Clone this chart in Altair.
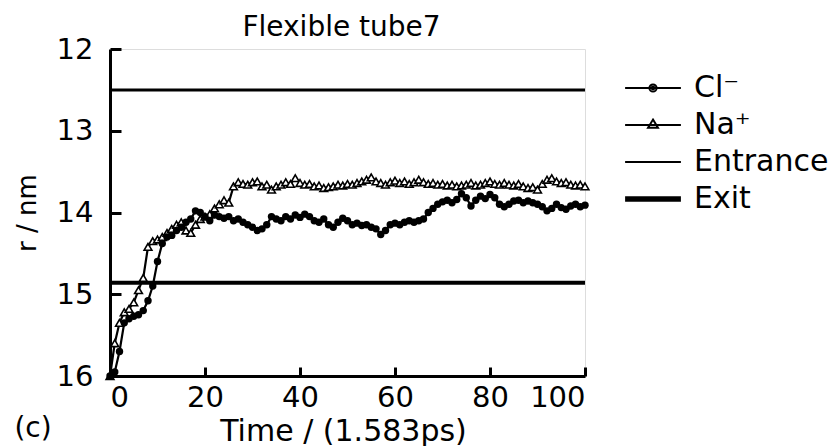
import altair as alt
import pandas as pd

TIME = list(range(0, 101))
CL = [16.0, 15.95, 15.7, 15.35, 15.3, 15.27, 15.25, 15.2, 15.08, 14.9,
      14.6, 14.38, 14.3, 14.28, 14.22, 14.18, 14.12, 14.08, 13.98, 14.0,
      14.05, 14.1, 14.03, 14.05, 14.07, 14.05, 14.1, 14.08, 14.12, 14.15,
      14.18, 14.22, 14.2, 14.15, 14.05, 14.08, 14.1, 14.05, 14.08, 14.03,
      14.06, 14.02, 14.05, 14.1, 14.12, 14.08, 14.15, 14.18, 14.12, 14.07,
      14.1, 14.15, 14.13, 14.16, 14.15, 14.18, 14.2, 14.27, 14.22, 14.15,
      14.13, 14.15, 14.12, 14.1, 14.12, 14.1, 14.08, 14.0, 13.95, 13.9,
      13.87, 13.85, 13.88, 13.84, 13.77, 13.82, 13.92, 13.85, 13.8, 13.83,
      13.78, 13.82, 13.9, 13.93, 13.9, 13.86, 13.85, 13.88, 13.86, 13.88,
      13.9, 13.93, 13.98, 13.95, 13.9, 13.94, 13.96, 13.92, 13.9, 13.93,
      13.91]
NA = [16.0, 15.6, 15.35, 15.22, 15.18, 15.1, 14.95, 14.8, 14.42, 14.35,
      14.33, 14.3, 14.25, 14.2, 14.15, 14.12, 14.22, 14.25, 14.15, 14.08,
      14.05, 14.02, 13.95, 13.9, 13.85, 13.88, 13.68, 13.63, 13.65, 13.66,
      13.63, 13.62, 13.68, 13.66, 13.72, 13.68, 13.66, 13.63, 13.65, 13.58,
      13.64, 13.66, 13.65, 13.68, 13.67, 13.7, 13.69, 13.68, 13.66, 13.67,
      13.65, 13.66, 13.64, 13.62, 13.6, 13.57, 13.62, 13.64, 13.66, 13.63,
      13.61, 13.64, 13.62, 13.65, 13.63, 13.6, 13.63, 13.65, 13.64, 13.66,
      13.65, 13.67, 13.66, 13.68, 13.67, 13.66, 13.64, 13.67, 13.66, 13.64,
      13.62, 13.65, 13.66, 13.64, 13.66, 13.67, 13.65, 13.68, 13.7, 13.69,
      13.72, 13.65, 13.6, 13.58, 13.62, 13.64, 13.63, 13.66, 13.67, 13.66,
      13.68]
LEVEL_NAMES = ["Entrance", "Exit"]
LEVEL_VALUES = [12.5, 14.86]
LEVEL_WIDTHS = [3, 4]
SERIES = ["Cl\u207b", "Na\u207a", "Entrance", "Exit"]
X_TICKS = [0, 20, 40, 60, 80, 100]
Y_TICKS = [12, 13, 14, 15, 16]
TITLE = "Flexible tube7"
X_TITLE = "Time / (1.583ps)"
Y_TITLE = "r / nm"
PANEL = "(c)"

FONT = "DejaVu Sans"
W, H = 475, 327

df = pd.DataFrame({
    "t": TIME + TIME,
    "r": CL + NA,
    "series": [SERIES[0]] * len(TIME) + [SERIES[1]] * len(TIME),
})
lv = pd.DataFrame({"r": LEVEL_VALUES, "series": LEVEL_NAMES, "w": LEVEL_WIDTHS})

xs = alt.Scale(domain=[0, 100], nice=False, zero=False)
ys = alt.Scale(domain=[12, 16], reverse=True, nice=False, zero=False)

# legend symbol paths (unit = sqrt(size)/2 px), stroked black
P_CL = ("M-3.1,0H3.1"
        "M-0.4,0A0.4,0.4 0 1,0 0.4,0A0.4,0.4 0 1,0 -0.4,0Z"
        "M-0.15,0A0.15,0.15 0 1,0 0.15,0A0.15,0.15 0 1,0 -0.15,0Z")
P_NA = "M-3.1,0H3.1M0,-0.6L0.55,0.3L-0.55,0.3Z"
P_ENT = "M-3.1,0H3.1"
P_EXIT = "M-3.1,-0.2H3.1M-3.1,0H3.1M-3.1,0.2H3.1"

rules = alt.Chart(lv).mark_rule(color="black").encode(
    y=alt.Y("r:Q", scale=ys, axis=alt.Axis(
        values=Y_TICKS, format="d", ticks=False, grid=False,
        domainColor="black", domainWidth=3,
        labelFontSize=29, labelColor="black", labelPadding=17, labelFont=FONT,
        title=Y_TITLE, titleFontSize=26, titleFontWeight="normal",
        titleColor="black", titleFont=FONT, titlePadding=16)),
    strokeWidth=alt.StrokeWidth("w:Q", scale=None, legend=None),
)

base = alt.Chart(df)

lines = base.mark_line(color="black", strokeWidth=2.2).encode(
    x=alt.X("t:Q", scale=xs, axis=alt.Axis(
        values=X_TICKS, ticks=False, grid=False,
        domainColor="black", domainWidth=3,
        labelFontSize=29, labelColor="black", labelPadding=7, labelFont=FONT,
        title=X_TITLE, titleFontSize=30, titleFontWeight="normal",
        titleColor="black", titleFont=FONT, titlePadding=4, titleX=233)),
    y=alt.Y("r:Q", scale=ys, axis=alt.Axis(
        orient="right", offset=-W, values=Y_TICKS, labels=False,
        domain=False, grid=False, ticks=True, tickSize=11, tickWidth=3,
        tickColor="black", title=None)),
    detail="series:N",
)

cl_pts = base.transform_filter(alt.datum.series == SERIES[0]).mark_point(
    shape="circle", filled=True, color="black", size=55, opacity=1
).encode(
    x=alt.X("t:Q", scale=xs, axis=alt.Axis(
        orient="top", offset=-H, values=X_TICKS, labels=False, domain=False,
        grid=False, ticks=True, tickSize=9, tickWidth=3, tickColor="black",
        title=None)),
    y=alt.Y("r:Q", scale=ys, axis=None),
)

na_pts = base.transform_filter(alt.datum.series == SERIES[1]).mark_point(
    shape="triangle-up", filled=True, fill="white", stroke="black",
    strokeWidth=1.6, size=60, opacity=1
).encode(
    x=alt.X("t:Q", scale=xs, axis=None),
    y=alt.Y("r:Q", scale=ys, axis=None),
)

legend_layer = base.transform_filter("datum.t < 0").mark_point(
    filled=False, color="black", strokeWidth=2, opacity=1
).encode(
    shape=alt.Shape("series:N", scale=alt.Scale(domain=SERIES, range=[P_CL, P_NA, P_ENT, P_EXIT]),
                    legend=alt.Legend(
                        title=None, orient="none", legendX=528, legendY=24,
                        symbolSize=324, symbolStrokeColor="black",
                        symbolStrokeWidth=2, labelFont=FONT, labelFontSize=30,
                        labelColor="black", labelOffset=26, rowPadding=7)),
)

panel = alt.Chart(pd.DataFrame({"label": [PANEL]})).mark_text(
    font=FONT, fontSize=28, color="black", align="center", baseline="middle"
).encode(text="label:N", x=alt.value(-77), y=alt.value(380))

chart = alt.layer(rules, lines, na_pts, cl_pts, legend_layer, panel).resolve_scale(
    x="independent", y="independent"
).properties(
    width=W, height=H, autosize="none",
    padding={"left": 102, "top": 41, "right": 244, "bottom": 70},
    title=alt.TitleParams(TITLE, fontSize=28, fontWeight="normal", font=FONT,
                          color="black", anchor="middle", dx=-6, dy=7, offset=0),
).configure_view(stroke=None).configure(font=FONT)

chart.save("out.html", embed_options={"renderer": "svg", "actions": False})
